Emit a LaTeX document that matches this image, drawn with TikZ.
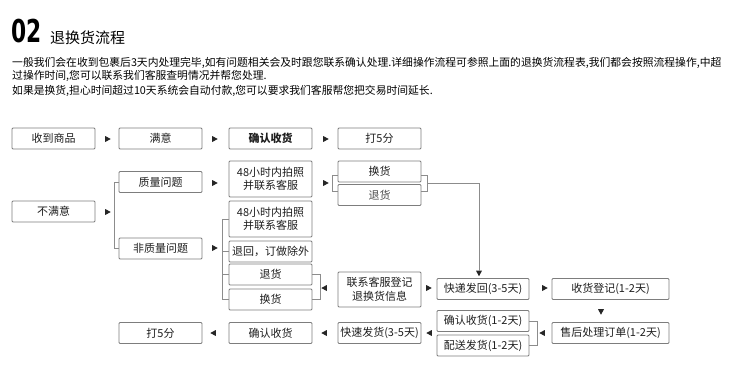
\documentclass[tikz,border=0pt]{standalone}
\usepackage{fontspec}
\setmainfont{Noto Sans CJK SC}
\newfontfamily\numfont{DejaVu Sans}
\usetikzlibrary{shapes.geometric,calc}
\definecolor{boxline}{RGB}{125,125,125}
\definecolor{connline}{RGB}{140,140,140}
\definecolor{txt}{RGB}{30,30,30}
\tikzset{
  box/.style={draw=boxline, line width=0.9pt, rounded corners=1pt, inner sep=0pt,
    minimum width=83pt, minimum height=21pt, text=txt, align=center,
    font=\fontsize{11}{13.5}\selectfont},
  wbox/.style={box, minimum width=92pt},
  lbox/.style={box, minimum width=117pt},
  tbox/.style={box, minimum height=36pt},
  conn/.style={draw=connline, line width=0.8pt},
  tri/.style={isosceles triangle, isosceles triangle stretches=true, fill=black!85,
    draw=none, inner sep=0pt, minimum width=6pt, minimum height=5.5pt},
  rtri/.style={tri},
  ltri/.style={tri, shape border rotate=180},
  dtri/.style={tri, shape border rotate=-90},
  bodytext/.style={anchor=west, inner sep=0pt, text=black, font=\fontsize{10.8}{13}\selectfont}
}
\begin{document}
\begin{tikzpicture}[x=1pt,y=-1pt]
\useasboundingbox (0,0) rectangle (750,370);
% header
\node[anchor=south west, inner sep=0pt] (num) at (11,43.5)
  {\scalebox{0.69}[1]{\numfont\bfseries\fontsize{31.5}{32}\selectfont 02}};
\node[anchor=west, inner sep=0pt, font=\fontsize{15}{16}\selectfont] (title) at (50,38) {退换货流程};
\node[bodytext] (l1) at (12,63) {一般我们会在收到包裹后3天内处理完毕,如有问题相关会及时跟您联系确认处理.详细操作流程可参照上面的退换货流程表,我们都会按照流程操作,中超};
\node[bodytext] (l2) at (12,76) {过操作时间,您可以联系我们客服查明情况并帮您处理.};
\node[bodytext] (l3) at (12,91) {如果是换货,担心时间超过10天系统会自动付款,您可以要求我们客服帮您把交易时间延长.};

% row 1
\node[box] (n1) at (53.5,138.5) {收到商品};
\node[box] (n2) at (160.5,138.5) {满意};
\node[box, font=\fontsize{11}{13.5}\selectfont\bfseries] (n3) at (270.5,138.5) {确认收货};
\node[box] (n4) at (379.5,138.5) {打5分};
\node[rtri] (a1) at (107,139) {};
\node[rtri] (a2) at (214,139) {};
\node[rtri] (a3) at (325,139) {};

% dissatisfied branch
\node[box] (bu) at (53.5,211.5) {不满意};
\node[box] (q) at (160.5,182) {质量问题};
\node[box] (nq) at (160.5,248.5) {非质量问题};
\node[tbox] (p1) at (270.5,179) {48小时内拍照\\并联系客服};
\node[tbox] (p2) at (270.5,219) {48小时内拍照\\并联系客服};
\node[box] (rt) at (270.5,251.5) {退回，订做除外};
\node[box] (t2) at (270.5,274.5) {退货};
\node[box] (h2) at (270.5,299.5) {换货};
\node[box] (hh) at (379.5,171.5) {换货};
\node[box, text=black!70] (th) at (379.5,195) {退货};
\node[tbox, minimum height=35pt] (lx) at (379.5,289.5) {联系客服登记\\退换货信息};
\node[wbox] (kd) at (483,289) {快递发回(3-5天)};
\node[lbox] (sd) at (610.5,289) {收货登记(1-2天)};
\node[lbox] (sh) at (610.5,333) {售后处理订单(1-2天)};
\node[wbox] (qr) at (483,321) {确认收货(1-2天)};
\node[wbox] (ps) at (483,345.5) {配送发货(1-2天)};
\node[box] (ks) at (379.5,333) {快速发货(3-5天)};
\node[box] (qs) at (270.5,333) {确认收货};
\node[box] (df) at (160.5,333) {打5分};

% arrowheads
\node[rtri] (a4) at (107,212) {};
\node[rtri] (a5) at (214,183) {};
\node[rtri] (a6) at (325,183) {};
\node[rtri] (a7) at (214,248) {};
\node[ltri] (a8) at (325,288) {};
\node[rtri] (a9) at (428,288) {};
\node[rtri] (a10) at (544,288) {};
\node[dtri] (a11) at (601,311) {};
\node[ltri] (a12) at (543,333) {};
\node[ltri] (a13) at (430,333) {};
\node[ltri] (a14) at (325,333) {};
\node[ltri] (a15) at (214,333) {};
\node[dtri] (a16) at (479,272.5) {};

% connectors
\draw[conn] (q.west) -- ++(-4,0) |- (nq.west);
\draw[conn] (p2.west) -- ++(-6,0) |- (h2.west);
\draw[conn] (rt.west) -- ++(-6,0);
\draw[conn] (t2.west) -- ++(-6,0);
\draw[conn] (t2.east) -- ++(8,0) |- (h2.east);
\draw[conn] (qr.east) -- ++(8,0) |- (ps.east);
\coordinate (bl) at ($(hh.south west)!0.5!(th.north west)$);
\coordinate (br) at ($(hh.south east)!0.5!(th.north east)$);
\draw[conn] ([shift={(0,-8)}]bl) -- ++(-5,0) -- ++(0,16) -- ++(5,0);
\draw[conn] ([shift={(0,-8)}]br) -- ++(6,0) -- ++(0,16) -- ++(-6,0);
\draw[conn] ([shift={(6,0)}]br) -| (a16.north);
\end{tikzpicture}
\end{document}
